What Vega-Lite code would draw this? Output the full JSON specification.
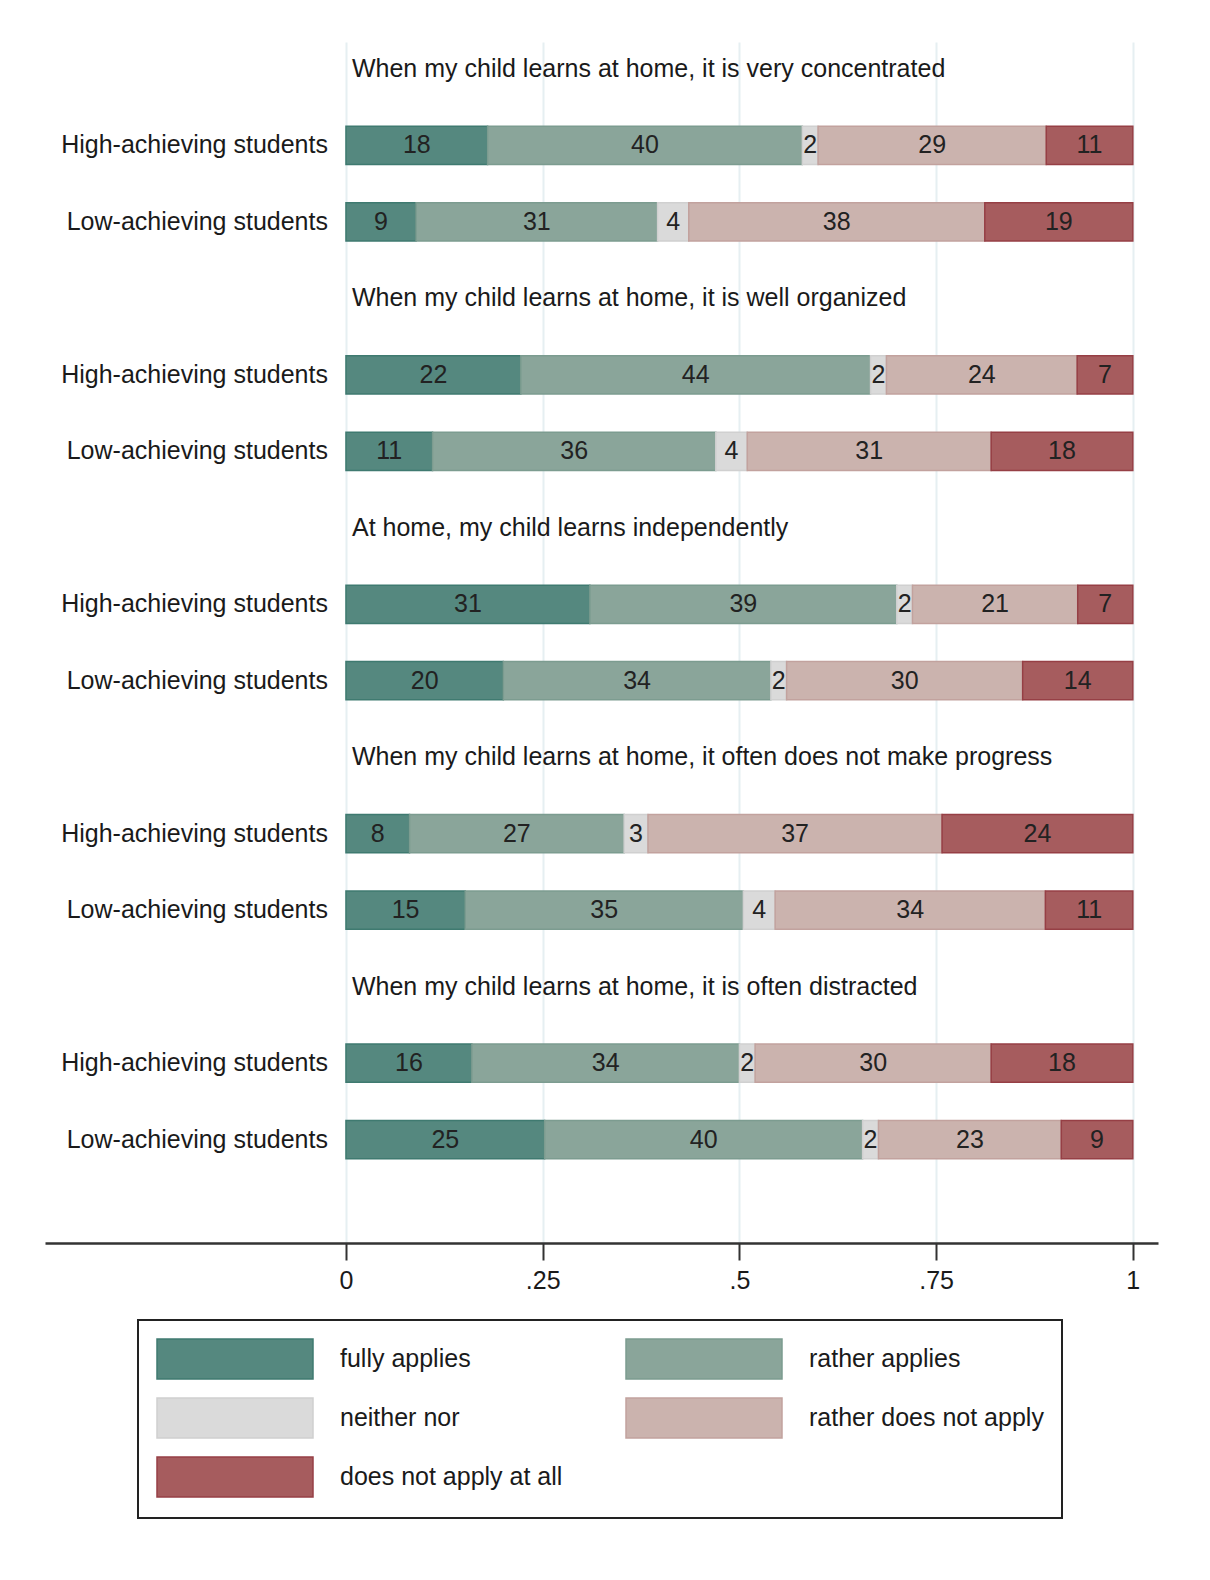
{
  "$schema": "https://vega.github.io/schema/vega-lite/v6.json",
  "width": 1113,
  "height": 1201,
  "autosize": {"type": "none"},
  "padding": {"left": 45, "top": 42, "right": 52, "bottom": 337},
  "background": "white",
  "config": {"view": {"stroke": null}, "font": "Liberation Sans"},
  "datasets": {
    "resp": [
      {"row": "H1", "response": "fully applies", "code": 1, "pct": 18},
      {"row": "H1", "response": "rather applies", "code": 2, "pct": 40},
      {"row": "H1", "response": "neither nor", "code": 3, "pct": 2},
      {"row": "H1", "response": "rather does not apply", "code": 4, "pct": 29},
      {"row": "H1", "response": "does not apply at all", "code": 5, "pct": 11},
      {"row": "L1", "response": "fully applies", "code": 1, "pct": 9},
      {"row": "L1", "response": "rather applies", "code": 2, "pct": 31},
      {"row": "L1", "response": "neither nor", "code": 3, "pct": 4},
      {"row": "L1", "response": "rather does not apply", "code": 4, "pct": 38},
      {"row": "L1", "response": "does not apply at all", "code": 5, "pct": 19},
      {"row": "H2", "response": "fully applies", "code": 1, "pct": 22},
      {"row": "H2", "response": "rather applies", "code": 2, "pct": 44},
      {"row": "H2", "response": "neither nor", "code": 3, "pct": 2},
      {"row": "H2", "response": "rather does not apply", "code": 4, "pct": 24},
      {"row": "H2", "response": "does not apply at all", "code": 5, "pct": 7},
      {"row": "L2", "response": "fully applies", "code": 1, "pct": 11},
      {"row": "L2", "response": "rather applies", "code": 2, "pct": 36},
      {"row": "L2", "response": "neither nor", "code": 3, "pct": 4},
      {"row": "L2", "response": "rather does not apply", "code": 4, "pct": 31},
      {"row": "L2", "response": "does not apply at all", "code": 5, "pct": 18},
      {"row": "H3", "response": "fully applies", "code": 1, "pct": 31},
      {"row": "H3", "response": "rather applies", "code": 2, "pct": 39},
      {"row": "H3", "response": "neither nor", "code": 3, "pct": 2},
      {"row": "H3", "response": "rather does not apply", "code": 4, "pct": 21},
      {"row": "H3", "response": "does not apply at all", "code": 5, "pct": 7},
      {"row": "L3", "response": "fully applies", "code": 1, "pct": 20},
      {"row": "L3", "response": "rather applies", "code": 2, "pct": 34},
      {"row": "L3", "response": "neither nor", "code": 3, "pct": 2},
      {"row": "L3", "response": "rather does not apply", "code": 4, "pct": 30},
      {"row": "L3", "response": "does not apply at all", "code": 5, "pct": 14},
      {"row": "H4", "response": "fully applies", "code": 1, "pct": 8},
      {"row": "H4", "response": "rather applies", "code": 2, "pct": 27},
      {"row": "H4", "response": "neither nor", "code": 3, "pct": 3},
      {"row": "H4", "response": "rather does not apply", "code": 4, "pct": 37},
      {"row": "H4", "response": "does not apply at all", "code": 5, "pct": 24},
      {"row": "L4", "response": "fully applies", "code": 1, "pct": 15},
      {"row": "L4", "response": "rather applies", "code": 2, "pct": 35},
      {"row": "L4", "response": "neither nor", "code": 3, "pct": 4},
      {"row": "L4", "response": "rather does not apply", "code": 4, "pct": 34},
      {"row": "L4", "response": "does not apply at all", "code": 5, "pct": 11},
      {"row": "H5", "response": "fully applies", "code": 1, "pct": 16},
      {"row": "H5", "response": "rather applies", "code": 2, "pct": 34},
      {"row": "H5", "response": "neither nor", "code": 3, "pct": 2},
      {"row": "H5", "response": "rather does not apply", "code": 4, "pct": 30},
      {"row": "H5", "response": "does not apply at all", "code": 5, "pct": 18},
      {"row": "L5", "response": "fully applies", "code": 1, "pct": 25},
      {"row": "L5", "response": "rather applies", "code": 2, "pct": 40},
      {"row": "L5", "response": "neither nor", "code": 3, "pct": 2},
      {"row": "L5", "response": "rather does not apply", "code": 4, "pct": 23},
      {"row": "L5", "response": "does not apply at all", "code": 5, "pct": 9}
    ],
    "groups": [
      {"row": "H1", "label": "High-achieving students"},
      {"row": "L1", "label": "Low-achieving students"},
      {"row": "H2", "label": "High-achieving students"},
      {"row": "L2", "label": "Low-achieving students"},
      {"row": "H3", "label": "High-achieving students"},
      {"row": "L3", "label": "Low-achieving students"},
      {"row": "H4", "label": "High-achieving students"},
      {"row": "L4", "label": "Low-achieving students"},
      {"row": "H5", "label": "High-achieving students"},
      {"row": "L5", "label": "Low-achieving students"}
    ],
    "titles": [
      {"row": "T1", "title": "When my child learns at home, it is very concentrated"},
      {"row": "T2", "title": "When my child learns at home, it is well organized"},
      {"row": "T3", "title": "At home, my child learns independently"},
      {"row": "T4", "title": "When my child learns at home, it often does not make progress"},
      {"row": "T5", "title": "When my child learns at home, it is often distracted"}
    ]
  },
  "layer": [
    {
      "data": {"name": "resp"},
      "transform": [
        {"stack": "pct", "groupby": ["row"], "sort": [{"field": "code", "order": "ascending"}], "offset": "normalize", "as": ["x0", "x1"]}
      ],
      "mark": {"type": "bar", "strokeWidth": 1.5},
      "encoding": {
        "y": {"field": "row", "type": "nominal", "axis": null,
          "scale": {"domain": ["T1","H1","L1","T2","H2","L2","T3","H3","L3","T4","H4","L4","T5","H5","L5","pad"], "paddingInner": 0.5, "paddingOuter": 0.1}},
        "x": {"field": "x0", "type": "quantitative",
          "scale": {"domain": [-0.3825, 1.032], "nice": false, "zero": false},
          "axis": {"values": [0, 0.25, 0.5, 0.75, 1], "title": null,
            "labelExpr": "datum.value == 0 ? '0' : datum.value == 0.25 ? '.25' : datum.value == 0.5 ? '.5' : datum.value == 0.75 ? '.75' : '1'",
            "domainColor": "#333333", "domainWidth": 2.5, "tickColor": "#333333", "tickWidth": 2, "tickSize": 17,
            "labelFontSize": 25, "labelPadding": 8, "labelColor": "#1a1a1a", "labelFont": "Liberation Sans",
            "grid": true, "gridColor": "#E6EFF2", "gridWidth": 2}},
        "x2": {"field": "x1"},
        "fill": {"field": "response", "type": "nominal",
          "scale": {"domain": ["fully applies", "rather applies", "neither nor", "rather does not apply", "does not apply at all"],
            "range": ["#55887F", "#8AA59A", "#DADADA", "#CBB3AE", "#A65C5E"]},
          "legend": {"orient": "none", "legendX": 93, "legendY": 1278, "columns": 2, "direction": "horizontal", "title": null,
            "symbolType": "M-1,-1H6.8V1H-1Z", "symbolSize": 1600,
            "labelFontSize": 25, "labelFont": "Liberation Sans", "labelColor": "#1a1a1a", "labelOffset": 142, "labelLimit": 400,
            "rowPadding": 13, "columnPadding": 60, "padding": 18,
            "strokeColor": "#222222", "fillColor": "white",
            "encode": {
              "legend": {"update": {"strokeWidth": {"value": 2}}},
              "symbols": {"update": {"stroke": {"scale": "stroke", "field": "value"}, "strokeWidth": {"value": 1.5}}}
            }}},
        "stroke": {"field": "response", "type": "nominal", "legend": null,
          "scale": {"domain": ["fully applies", "rather applies", "neither nor", "rather does not apply", "does not apply at all"],
            "range": ["#3F7A70", "#7C9C90", "#D0D0D0", "#C2A29E", "#963F45"]}}
      }
    },
    {
      "data": {"name": "resp"},
      "transform": [
        {"stack": "pct", "groupby": ["row"], "sort": [{"field": "code", "order": "ascending"}], "offset": "normalize", "as": ["x0", "x1"]},
        {"calculate": "(datum.x0 + datum.x1) / 2", "as": "xm"}
      ],
      "mark": {"type": "text", "fontSize": 25, "align": "center", "baseline": "middle", "color": "#222222", "font": "Liberation Sans"},
      "encoding": {
        "y": {"field": "row", "type": "nominal"},
        "x": {"field": "xm", "type": "quantitative"},
        "text": {"field": "pct", "type": "quantitative"}
      }
    },
    {
      "data": {"name": "groups"},
      "mark": {"type": "text", "fontSize": 25, "align": "right", "baseline": "middle", "color": "#1a1a1a", "dx": -18, "font": "Liberation Sans"},
      "encoding": {
        "y": {"field": "row", "type": "nominal"},
        "x": {"datum": 0, "type": "quantitative"},
        "text": {"field": "label"}
      }
    },
    {
      "data": {"name": "titles"},
      "mark": {"type": "text", "fontSize": 25, "align": "left", "baseline": "middle", "color": "#1a1a1a", "dx": 6, "font": "Liberation Sans"},
      "encoding": {
        "y": {"field": "row", "type": "nominal"},
        "x": {"datum": 0, "type": "quantitative"},
        "text": {"field": "title"}
      }
    }
  ]
}
